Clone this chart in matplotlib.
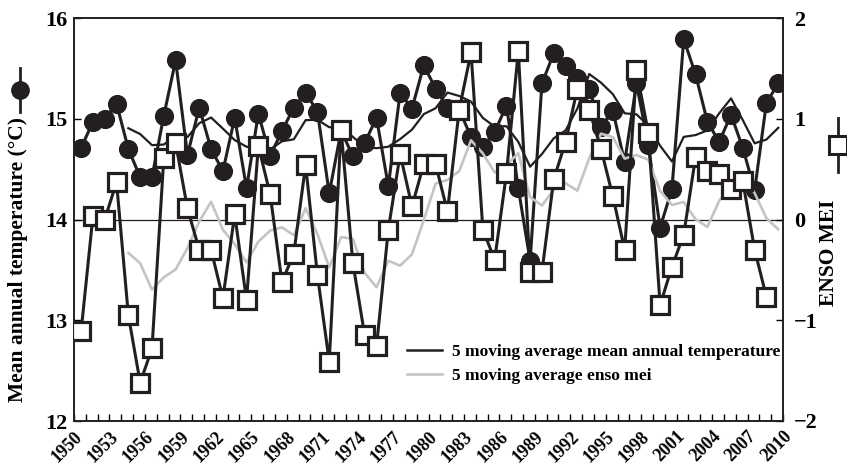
import numpy as np
import pandas as pd
import matplotlib
matplotlib.use("Agg")
import matplotlib.pyplot as plt
from matplotlib.lines import Line2D

plt.rcParams['font.family'] = ['Liberation Serif', 'DejaVu Serif']
plt.rcParams['font.weight'] = 'bold'

# annual values, 1950-2009
years = np.arange(1950, 2010)
temp = [14.71, 14.97, 15.00, 15.15, 14.70, 14.42, 14.42, 15.03, 15.58, 14.64,
        15.11, 14.70, 14.48, 15.01, 14.31, 15.05, 14.63, 14.88, 15.11, 15.26,
        15.07, 14.26, 14.88, 14.63, 14.76, 15.01, 14.33, 15.26, 15.10, 15.53,
        15.30, 15.11, 15.09, 14.82, 14.72, 14.87, 15.13, 14.31, 13.59, 15.35,
        15.65, 15.52, 15.40, 15.30, 14.92, 15.08, 14.57, 15.35, 14.74, 13.92,
        14.30, 15.79, 15.44, 14.97, 14.77, 15.04, 14.71, 14.29, 15.16, 15.35]
mei = [-1.11, 0.03, 0.00, 0.37, -0.95, -1.62, -1.28, 0.61, 0.76, 0.11,
       -0.30, -0.30, -0.78, 0.05, -0.80, 0.73, 0.25, -0.62, -0.34, 0.54,
       -0.55, -1.41, 0.89, -0.43, -1.15, -1.26, -0.10, 0.65, 0.13, 0.55,
       0.55, 0.08, 1.09, 1.66, -0.10, -0.40, 0.46, 1.67, -0.52, -0.52,
       0.40, 0.77, 1.30, 1.09, 0.70, 0.23, -0.30, 1.48, 0.86, -0.85,
       -0.47, -0.15, 0.62, 0.48, 0.45, 0.30, 0.38, -0.30, -0.77, np.nan]

tick_years = np.arange(1950, 2011, 3)

# 5 point trailing moving averages
temp_ma = pd.Series(temp).rolling(5, min_periods=1).mean().to_numpy()
mei_ma = pd.Series(mei).rolling(5, min_periods=1).mean().to_numpy()
temp_ma[:4] = np.nan
mei_ma[:4] = np.nan

x = years + 0.6  # points sit a bit right of the year ticks
black = '#231f20'
grey = '#c4c4c4'

fig = plt.figure(figsize=(8.47, 4.69), dpi=100)
ax = fig.add_axes([74 / 847, 1 - 421 / 469, 709 / 847, 403 / 469])
ax2 = ax.twinx()

ax.axhline(14, color=black, lw=0.9, zorder=1)
ax.plot(x, temp, color=black, lw=2.2, marker='o', ms=12.8,
        mfc=black, mec=black, zorder=3)
ax.plot(x, temp_ma, color=black, lw=1.6, zorder=4)

l_mei_ma, = ax2.plot(x, mei_ma, color=grey, lw=1.9, zorder=2,
                     label='5 moving average enso mei')
ax2.plot(x, mei, color=black, lw=2.2, marker='s', ms=12.5, mfc='white',
         mec=black, mew=2.3, zorder=3)
l_temp_ma = Line2D([], [], color=black, lw=1.8,
                   label='5 moving average mean annual temperature')

ax.set_xlim(1950, 2010)
ax.set_ylim(12, 16)
ax2.set_ylim(-2, 2)
ax.set_xticks(tick_years)
ax.set_xticks(np.arange(1950, 2011), minor=True)
ax.set_xticklabels([str(y) for y in tick_years], rotation=45, ha='right',
                   rotation_mode='anchor', fontsize=13)
ax.set_yticks([12, 13, 14, 15, 16])
ax.set_yticklabels(['12', '13', '14', '15', '16'], fontsize=16)
ax2.set_yticks([-2, -1, 0, 1, 2])
ax2.set_yticklabels(['\u22122', '\u22121', '0', '1', '2'], fontsize=16)

ax.tick_params(axis='x', which='both', direction='in', length=5, width=1, pad=5)
ax.tick_params(axis='y', direction='in', length=5, width=1, pad=5)
ax2.tick_params(axis='y', direction='in', length=5, width=1, pad=8)
for a in (ax, ax2):
    for s in a.spines.values():
        s.set_linewidth(1.2)
        s.set_color(black)

leg = ax2.legend(handles=[l_temp_ma, l_mei_ma], loc='lower right',
                 bbox_to_anchor=(1.011, 0.065), frameon=False, fontsize=12.5,
                 handlelength=2.0, handletextpad=0.6, labelspacing=0.45,
                 borderaxespad=0.2)

# axis titles with their series symbols
fig.text(18 / 847, 1 - 260 / 469, 'Mean annual temperature (°C)',
         rotation=90, ha='center', va='center', fontsize=15.5)
fig.text(829 / 847, 1 - 253 / 469, 'ENSO MEI',
         rotation=90, ha='center', va='center', fontsize=15.5)
fig.add_artist(Line2D([20 / 847] * 3, [1 - 68 / 469, 1 - 90 / 469, 1 - 112 / 469],
                      transform=fig.transFigure, color=black, lw=2,
                      marker='o', ms=12.5, mfc=black, mec=black, markevery=[1]))
fig.add_artist(Line2D([838 / 847] * 3, [1 - 118 / 469, 1 - 145 / 469, 1 - 172 / 469],
                      transform=fig.transFigure, color=black, lw=2,
                      marker='s', ms=12.5, mfc='white', mec=black, mew=2.2,
                      markevery=[1]))

fig.savefig('out.png', dpi=100)
